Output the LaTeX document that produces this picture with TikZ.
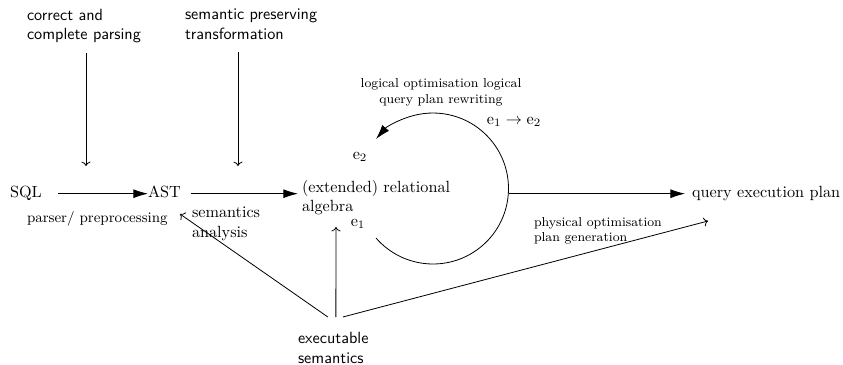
\documentclass[tikz,border=0pt]{standalone}
\usetikzlibrary{arrows.meta}
\begin{document}
\begin{tikzpicture}[x=0.6173pt,y=0.6173pt, line width=0.5pt,
  lbl/.style={inner sep=0pt, outer sep=0pt},
  sanslbl/.style={lbl, font=\sffamily, align=left},
  mainnode/.style={lbl, text height=1.2ex, text depth=0.25ex},
  mainarrow/.style={-{Latex[length=9pt,width=5.5pt]}},
  plainarrow/.style={->}]
\useasboundingbox (0,0) rectangle (843,364);

% text nodes
\node[sanslbl, anchor=north west] (corr) at (27,355) {correct and\\complete parsing};
\node[sanslbl, anchor=north west] (sem) at (185,355) {semantic preserving\\transformation};
\node[mainnode, anchor=base west] (sql) at (10,167) {SQL};
\node[mainnode, anchor=base west] (ast) at (148,167) {AST};
\node[lbl, anchor=north west, align=left] (alg) at (302,184) {(extended) relational\\algebra};
\node[mainnode, anchor=base west] (qep) at (692,167) {query execution plan};
\node[lbl, anchor=base west, font=\small] (pars) at (27,142) {parser/ preprocessing};
\node[lbl, anchor=north west, align=left] (sema) at (192,157) {semantics\\analysis};
\node[lbl] (e2) at (360,207) {$\mathrm{e}_2$};
\node[lbl] (e1) at (358,140) {$\mathrm{e}_1$};
\node[lbl] (e12) at (514,242) {$\mathrm{e}_1\rightarrow\mathrm{e}_2$};
\node[lbl, anchor=north, align=center, font=\footnotesize] (logi) at (441,285) {logical optimisation logical\\query plan rewriting};
\node[lbl, anchor=north west, align=left, font=\footnotesize] (phys) at (534,147) {physical optimisation\\plan generation};
\node[sanslbl, anchor=north west] (exec) at (298,31.5) {executable\\semantics};
\node[circle, inner sep=0pt, outer sep=0pt, minimum size=93.2pt] (loop) at (433,175.5) {};

% free ends
\coordinate (t1) at (86,198);
\coordinate (t2) at (238,198);
\coordinate (astin) at (180,150);
\coordinate (algin) at (336,137);
\coordinate (qepin) at (708,143);

% main flow
\draw[mainarrow, shorten <=9.9pt] (sql) -- (ast);
\draw[mainarrow, shorten <=6.2pt, shorten >=2.5pt] (ast) -- (ast -| alg.west);
\draw[mainarrow, shorten >=4.3pt] (qep -| loop.east) -- (qep);
\draw[mainarrow] (loop.221) arc[start angle=221, end angle=499, radius=46.6pt];

% top arrows
\draw[plainarrow, shorten <=6.2pt] (corr.south -| t1) -- (t1);
\draw[plainarrow, shorten <=8pt] (sem.south -| t2) -- (t2);

% executable semantics
\draw[plainarrow] ([shift={(-5.4,15.5)}]exec.north) -- (astin);
\draw[plainarrow] ([shift={(2.6,15.5)}]exec.north) -- (algin);
\draw[plainarrow] ([shift={(9.6,15.5)}]exec.north) -- (qepin);
\end{tikzpicture}
\end{document}
